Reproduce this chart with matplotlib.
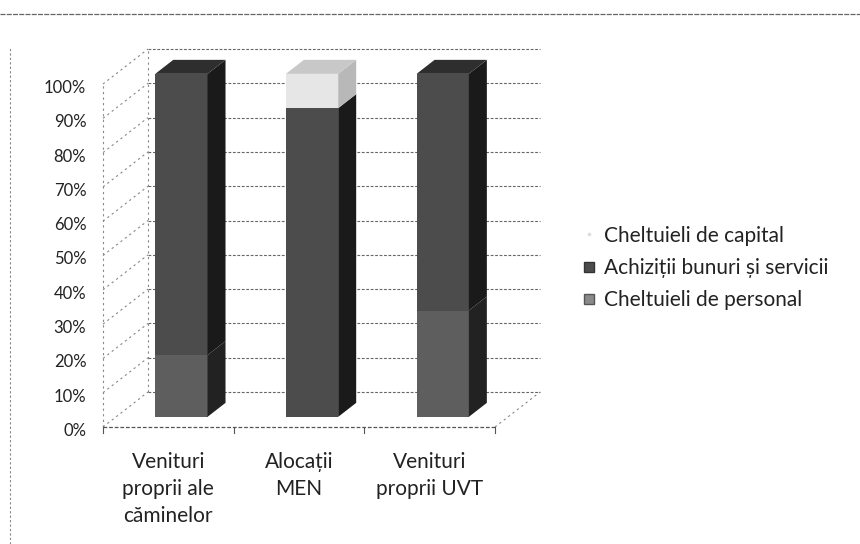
import matplotlib
matplotlib.use("Agg")
import matplotlib.pyplot as plt
from matplotlib.patches import Polygon
from matplotlib.lines import Line2D
from matplotlib.transforms import ScaledTranslation
import numpy as np

plt.rcParams['font.family'] = ['Lato', 'DejaVu Sans']

categories = ["Venituri\nproprii ale\ncăminelor", "Alocații\nMEN", "Venituri\nproprii UVT"]
series_names = ["Cheltuieli de personal", "Achiziții bunuri și servicii", "Cheltuieli de capital"]
personal = [0.18, 0.00, 0.31]
achizitii = [0.82, 0.90, 0.69]
capital = [0.00, 0.10, 0.00]
yticks = [0.0, 0.1, 0.2, 0.3, 0.4, 0.5, 0.6, 0.7, 0.8, 0.9, 1.0]
ytick_labels = ["0%", "10%", "20%", "30%", "40%", "50%", "60%", "70%", "80%", "90%", "100%"]

front_colors = ["#5e5e5e", "#4c4c4c", "#e6e6e6"]
side_colors = ["#222222", "#1a1a1a", "#b8b8b8"]
top_colors = ["#383838", "#2e2e2e", "#c8c8c8"]

W, H = 860, 544
fig = plt.figure(figsize=(W / 100, H / 100), dpi=100)
# front plane of plot area in pixels
x0, x1, y0, y1 = 103, 495, 427, 84
ax = fig.add_axes([x0 / W, 1 - y0 / H, (x1 - x0) / W, (y0 - y1) / H])
ax.set_xlim(-0.5, 2.5)
ax.set_ylim(0, 1)
for s in ax.spines.values():
    s.set_visible(False)

# depth offsets in data units
px_x = 3.0 / (x1 - x0)
px_y = 1.0 / (y0 - y1)
DX = 45 * px_x
DY = 35 * px_y

grid_kw = dict(color="#666666", lw=0.8, ls=(0, (2.5, 1.5)), clip_on=False)
diag_kw = dict(color="#888888", lw=0.8, ls=(0, (2, 3)), clip_on=False)
# back wall gridlines
for t in yticks:
    ax.plot([-0.5 + DX, 2.5 + DX], [t + DY, t + DY], **grid_kw)
    # left wall diagonals
    ax.plot([-0.5, -0.5 + DX], [t, t + DY], **diag_kw)
# left wall back edge and front axis
ax.plot([-0.5 + DX, -0.5 + DX], [DY, 1 + DY], **diag_kw)
ax.plot([-0.5, -0.5], [0, 1], **diag_kw)
# floor
ax.plot([-0.5, 2.5], [0, 0], color="#555555", lw=0.9, ls=(0, (3, 1.5)), clip_on=False)
ax.plot([2.5, 2.5 + DX], [0, DY], **diag_kw)
for xt in [-0.5, 0.5, 1.5, 2.5]:
    ax.plot([xt, xt], [0, -6 * px_y], color="#555555", lw=0.8, clip_on=False)

# bars
bw = 0.4
f1, f2 = 0.29, 0.69
xs = np.arange(len(categories))
stack = [personal, achizitii, capital]
bottoms = np.zeros(len(categories))
for k, vals in enumerate(stack):
    vals = np.array(vals)
    ax.bar(xs + f1 * DX, vals, bottom=bottoms + f1 * DY, width=bw,
           color=front_colors[k], edgecolor="none", clip_on=False, zorder=3)
    for i, v in enumerate(vals):
        if v <= 0:
            continue
        b = bottoms[i]
        t = b + v
        xr = xs[i] + bw / 2
        side = Polygon([(xr + f1 * DX, b + f1 * DY), (xr + f2 * DX, b + f2 * DY),
                        (xr + f2 * DX, t + f2 * DY), (xr + f1 * DX, t + f1 * DY)],
                       closed=True, facecolor=side_colors[k], edgecolor="none",
                       clip_on=False, zorder=3)
        ax.add_patch(side)
    bottoms = bottoms + vals

# top faces
for i in range(len(categories)):
    t = bottoms[i]
    top_k = max(k for k in range(3) if stack[k][i] > 0)
    xl = xs[i] - bw / 2
    xr = xs[i] + bw / 2
    top = Polygon([(xl + f1 * DX, t + f1 * DY), (xr + f1 * DX, t + f1 * DY),
                   (xr + f2 * DX, t + f2 * DY), (xl + f2 * DX, t + f2 * DY)],
                  closed=True, facecolor=top_colors[top_k], edgecolor="none",
                  clip_on=False, zorder=3)
    ax.add_patch(top)

ax.set_yticks(yticks)
ax.set_yticklabels(ytick_labels, fontsize=12, color="#222222")
ax.tick_params(axis="y", length=0, pad=12)
shift = ScaledTranslation(0, -4 / 100, fig.dpi_scale_trans)
for lab in ax.get_yticklabels():
    lab.set_verticalalignment("center")
    lab.set_transform(lab.get_transform() + shift)
ax.set_xticks(xs)
ax.set_xticklabels(categories, fontsize=15, color="#222222", linespacing=1.45)
ax.tick_params(axis="x", length=0, pad=18)

# legend
handles = [
    Line2D([], [], marker="s", ls="none", markersize=2, markerfacecolor="#dddddd",
           markeredgecolor="#dddddd"),
    Line2D([], [], marker="s", ls="none", markersize=7, markerfacecolor=front_colors[1],
           markeredgecolor="#333333"),
    Line2D([], [], marker="s", ls="none", markersize=7, markerfacecolor="#8a8a8a",
           markeredgecolor="#555555"),
]
labels = [series_names[2], series_names[1], series_names[0]]
fig.legend(handles, labels, loc="center left", bbox_to_anchor=(562 / W, 1 - 268 / H),
           frameon=False, fontsize=15, labelspacing=0.6, handlelength=0.8,
           handletextpad=0.3, labelcolor="#222222")

# chart frame (scan border)
fig.add_artist(Line2D([0, 1], [1 - 14 / H, 1 - 14 / H], transform=fig.transFigure,
                      color="#666666", lw=0.9, ls=(0, (4, 1))))
fig.add_artist(Line2D([10 / W, 10 / W], [0, 1 - 48 / H], transform=fig.transFigure,
                      color="#888888", lw=0.8, ls=(0, (2, 2))))

fig.savefig("out.png", dpi=100)
